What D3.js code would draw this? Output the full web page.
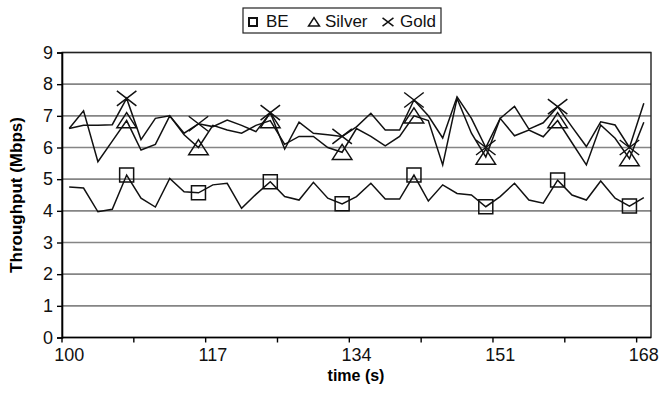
<!DOCTYPE html>
<html>
<head>
<meta charset="utf-8">
<script src="https://cdn.jsdelivr.net/npm/d3@7"></script>
<style>
  html, body { margin: 0; padding: 0; background: #fff; }
  svg { display: block; font-family: Arial, "Liberation Sans", sans-serif; }
</style>
</head>
<body>
<svg id="chart" width="661" height="393"></svg>
<script>
// Sample times: 41 samples, 1.7 s apart, from 100 s to 168 s
const times = d3.range(41).map(i => +(100 + i * 1.7).toFixed(1));
const tickLabels = [100, 117, 134, 151, 168];
const yTicks = [0, 1, 2, 3, 4, 5, 6, 7, 8, 9];

// Throughput per class of service (Mbps)
const beValues = [4.75, 4.72, 3.97, 4.05, 5.13, 4.4, 4.12, 5.02, 4.6, 4.57,
  4.82, 4.87, 4.08, 4.52, 4.92, 4.45, 4.34, 4.9, 4.4, 4.22,
  4.45, 4.87, 4.37, 4.37, 5.13, 4.31, 4.82, 4.55, 4.5, 4.13,
  4.45, 4.87, 4.34, 4.24, 4.97, 4.5, 4.34, 4.94, 4.4, 4.15, 4.42];
const silverValues = [6.6, 7.16, 5.55, 6.2, 6.85, 5.92, 6.1, 7.0, 6.4, 6.0,
  6.7, 6.55, 6.45, 6.7, 6.85, 6.1, 6.35, 6.35, 6.0, 5.85,
  6.6, 6.35, 6.05, 6.35, 7.0, 6.85, 5.45, 7.55, 6.45, 5.7,
  6.92, 6.37, 6.55, 6.34, 6.85, 6.15, 5.45, 6.71, 6.29, 5.65, 6.8];
const goldValues = [6.6, 6.7, 6.7, 6.72, 7.55, 6.25, 6.92, 7.0, 6.45, 6.75,
  6.66, 6.87, 6.7, 6.5, 7.1, 5.95, 6.8, 6.45, 6.4, 6.35,
  6.65, 7.08, 6.55, 6.55, 7.5, 7.0, 6.3, 7.6, 6.92, 6.0,
  6.92, 7.3, 6.58, 6.78, 7.29, 6.65, 6.03, 6.81, 6.71, 6.0, 7.4];

const seriesNames = ["BE", "Silver", "Gold"];
const seriesValues = [beValues, silverValues, goldValues];
const markerShapes = ["square", "triangle", "cross"];

const svg = d3.select("#chart");
const plotLeft = 62, plotRight = 651, plotTop = 52.5, plotBottom = 337.5;

const x = d3.scaleBand().domain(d3.range(times.length)).range([plotLeft, plotRight]).paddingInner(0).paddingOuter(0);
const cx = i => x(i) + x.bandwidth() / 2;
const y = d3.scaleLinear().domain([0, 9]).range([plotBottom, plotTop]);

// horizontal gridlines
svg.append("g").selectAll("line").data(yTicks.filter(v => v > 0)).join("line")
  .attr("x1", plotLeft).attr("x2", plotRight)
  .attr("y1", d => y(d)).attr("y2", d => y(d))
  .attr("stroke", "#858585").attr("stroke-width", 1.6);

// plot frame
svg.append("rect").attr("x", plotLeft).attr("y", plotTop)
  .attr("width", plotRight - plotLeft).attr("height", plotBottom - plotTop)
  .attr("fill", "none").attr("stroke", "#222").attr("stroke-width", 1.4);

// y axis
const yAxis = d3.axisLeft(y).tickValues(yTicks).tickSize(5).tickPadding(4);
const gy = svg.append("g").attr("transform", `translate(${plotLeft},0)`).call(yAxis);
gy.select(".domain").attr("stroke", "#000").attr("stroke-width", 1.6);
gy.selectAll(".tick line").attr("stroke", "#000").attr("stroke-width", 1.4);
gy.selectAll(".tick text").attr("font-size", 18).attr("fill", "#111")
  .attr("font-family", "Arial, 'Liberation Sans', sans-serif");

// x axis: tick marks on category boundaries every 5 samples, labels under every 10th sample
const gx = svg.append("g");
gx.append("line").attr("x1", plotLeft).attr("x2", plotRight).attr("y1", plotBottom).attr("y2", plotBottom)
  .attr("stroke", "#000").attr("stroke-width", 1.6);
const tickIdx = d3.range(0, times.length, 5);
gx.selectAll("line.tk").data(tickIdx).join("line").attr("class", "tk")
  .attr("x1", d => x(d)).attr("x2", d => x(d))
  .attr("y1", plotBottom).attr("y2", plotBottom + 5)
  .attr("stroke", "#000").attr("stroke-width", 1.4);
gx.selectAll("text").data(times.map((t, i) => ({t, i})).filter(d => tickLabels.includes(d.t))).join("text")
  .attr("x", d => cx(d.i)).attr("y", plotBottom + 23)
  .attr("text-anchor", "middle").attr("font-size", 18).attr("fill", "#111")
  .text(d => d.t);

// axis titles
svg.append("text").attr("x", 356).attr("y", 381).attr("text-anchor", "middle")
  .attr("font-size", 16).attr("font-weight", "bold").text("time (s)");
svg.append("text").attr("transform", `translate(22,${(plotTop + plotBottom) / 2}) rotate(-90)`)
  .attr("text-anchor", "middle").attr("font-size", 17).attr("font-weight", "bold")
  .text("Throughput (Mbps)");

// marker path builder
function markerPath(shape, s) {
  if (shape === "square") return `M${-s},${-s}H${s}V${s}H${-s}Z`;
  if (shape === "triangle") return `M0,${-s * 1.05}L${s * 1.3},${s * 0.95}L${-s * 1.3},${s * 0.95}Z`;
  return `M${-s * 1.3},${-s}L${s * 1.3},${s}M${s * 1.3},${-s}L${-s * 1.3},${s}`;
}

// series lines
const line = d3.line().x((d, i) => cx(i)).y(d => y(d));
seriesValues.forEach(vals => {
  svg.append("path").datum(vals).attr("d", line)
    .attr("fill", "none").attr("stroke", "#111").attr("stroke-width", 1.5)
    .attr("stroke-linejoin", "miter");
});

// markers every fifth sample, starting at the fifth
const markerIdx = d3.range(4, times.length, 5);
seriesValues.forEach((vals, k) => {
  const size = k === 0 ? 7 : 7.5;
  svg.append("g").selectAll("path").data(markerIdx).join("path")
    .attr("transform", i => `translate(${cx(i)},${y(vals[i])})`)
    .attr("d", markerPath(markerShapes[k], size))
    .attr("fill", "none").attr("stroke", "#111").attr("stroke-width", 1.5);
});

// legend
const lg = svg.append("g");
lg.append("rect").attr("x", 243).attr("y", 8).attr("width", 198).attr("height", 25)
  .attr("fill", "#fff").attr("stroke", "#222").attr("stroke-width", 1.2);
const legendItems = [
  {name: seriesNames[0], shape: markerShapes[0], mx: 253, tx: 266},
  {name: seriesNames[1], shape: markerShapes[1], mx: 314, tx: 325},
  {name: seriesNames[2], shape: markerShapes[2], mx: 388, tx: 400}
];
legendItems.forEach(it => {
  lg.append("path").attr("transform", `translate(${it.mx},${22})`)
    .attr("d", markerPath(it.shape, it.shape === "square" ? 4 : 4.2))
    .attr("fill", "none").attr("stroke", "#111").attr("stroke-width", it.shape === "square" ? 2 : 1.5);
  lg.append("text").attr("x", it.tx).attr("y", 27).attr("font-size", 17).attr("fill", "#111").text(it.name);
});
</script>
</body>
</html>
